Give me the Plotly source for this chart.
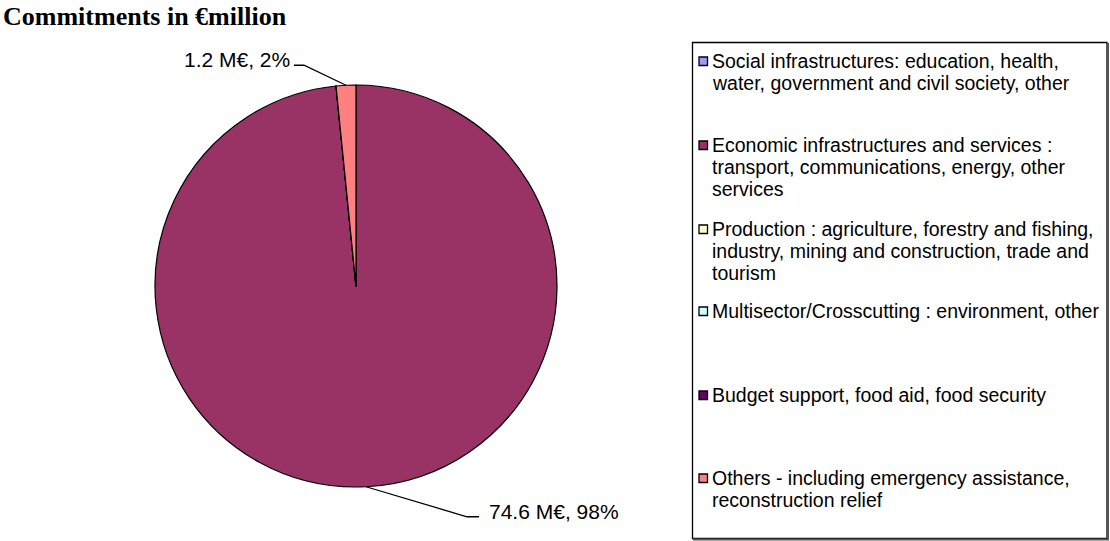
import math
import plotly.graph_objects as go

# ---- data ----
categories = [
    "Social infrastructures: education, health, water, government and civil society, other",
    "Economic infrastructures and services : transport, communications, energy, other services",
    "Production : agriculture, forestry and fishing, industry, mining and construction, trade and tourism",
    "Multisector/Crosscutting : environment, other",
    "Budget support, food aid, food security",
    "Others - including emergency assistance, reconstruction relief",
]
legend_lines = [
    ["Social infrastructures: education, health,", "water, government and civil society, other"],
    ["Economic infrastructures and services :", "transport, communications, energy, other", "services"],
    ["Production : agriculture, forestry and fishing,", "industry, mining and construction, trade and", "tourism"],
    ["Multisector/Crosscutting : environment, other"],
    ["Budget support, food aid, food security"],
    ["Others - including emergency assistance,", "reconstruction relief"],
]
values = [0, 74.6, 0, 0, 0, 1.2]
colors = ["#9999FF", "#993366", "#FFFFCC", "#CCFFFF", "#660066", "#FF8080"]
title_text = "Commitments in €million"

# ---- layout helpers (pixel -> paper) ----
W, H = 1110, 541
def px(x):
    return x / W
def py(y):
    return 1 - y / H

cx, cy, R = 356, 286, 201

fig = go.Figure()
fig.add_trace(go.Pie(
    labels=categories, values=values, sort=False, direction="clockwise",
    rotation=0, textinfo="none", hoverinfo="label+value+percent",
    marker=dict(colors=colors, line=dict(color="#000000", width=1.2)),
    domain=dict(x=[px(cx - R), px(cx + R)], y=[py(cy + R), py(cy - R)]),
    showlegend=False,
))

shapes = []
annotations = []

# title
annotations.append(dict(text="<b>" + title_text + "</b>", x=px(1), y=py(17), xref="paper", yref="paper",
                        xanchor="left", yanchor="middle", showarrow=False,
                        font=dict(family="Liberation Serif", size=26, color="black")))

# data labels with leader lines, anchored on slice mid-angles
total = sum(values)
cum = 0
label_cfg = {
    1: dict(dx1=101, dy1=30, dx2=12, side="right"),
    5: dict(dx1=-42, dy1=-20, dx2=-10, side="left"),
}
for i, v in enumerate(values):
    if v > 0:
        mid = (cum + v / 2) / total * 2 * math.pi
        ex = cx + R * math.sin(mid)
        ey = cy - R * math.cos(mid)
        c = label_cfg[i]
        x1, y1 = ex + c["dx1"], ey + c["dy1"]
        x2 = x1 + c["dx2"]
        shapes.append(dict(type="path", xref="paper", yref="paper",
                           path=f"M {px(ex)},{py(ey)} L {px(x1)},{py(y1)} L {px(x2)},{py(y1)}",
                           line=dict(color="black", width=1.3)))
        txt = f"{v:.1f} M€, {round(v / total * 100):.0f}%"
        if c["side"] == "right":
            annotations.append(dict(text=txt, x=px(x2 + 8), y=py(y1 - 5), xref="paper", yref="paper",
                                    xanchor="left", yanchor="middle", showarrow=False,
                                    font=dict(family="Liberation Sans", size=21, color="black")))
        else:
            annotations.append(dict(text=txt, x=px(x2 - 2), y=py(y1 - 6), xref="paper", yref="paper",
                                    xanchor="right", yanchor="middle", showarrow=False,
                                    font=dict(family="Liberation Sans", size=21, color="black")))
    cum += v

# manual legend (box with a slight shadow on right/bottom)
shapes.append(dict(type="path", xref="paper", yref="paper",
                   path=f"M {px(1108)},{py(43)} L {px(1108)},{py(539.5)} L {px(693)},{py(539.5)}",
                   line=dict(color="#555555", width=2)))
shapes.append(dict(type="rect", xref="paper", yref="paper",
                   x0=px(692.5), x1=px(1107), y0=py(538.5), y1=py(42.5),
                   line=dict(color="black", width=1.3), fillcolor="white", layer="below"))
entry_y = [61, 145, 229, 311, 395, 478]
pitch = 22
for lines, col, y0 in zip(legend_lines, colors, entry_y):
    shapes.append(dict(type="rect", xref="paper", yref="paper",
                       x0=px(699), x1=px(707.5), y0=py(y0 + 4.5), y1=py(y0 - 4),
                       line=dict(color="black", width=1.3), fillcolor=col))
    for k, t in enumerate(lines):
        annotations.append(dict(text=t, x=px(710), y=py(y0 + k * pitch), xref="paper", yref="paper",
                                xanchor="left", yanchor="middle", showarrow=False,
                                font=dict(family="Liberation Sans", size=19.5, color="black")))

fig.update_layout(
    width=W, height=H, margin=dict(l=0, r=0, t=0, b=0),
    paper_bgcolor="white", plot_bgcolor="white",
    shapes=shapes, annotations=annotations,
)
fig.write_html("out.html", config={"displayModeBar": False},
               post_script="document.body.style.margin='0';document.body.style.overflow='hidden';")
